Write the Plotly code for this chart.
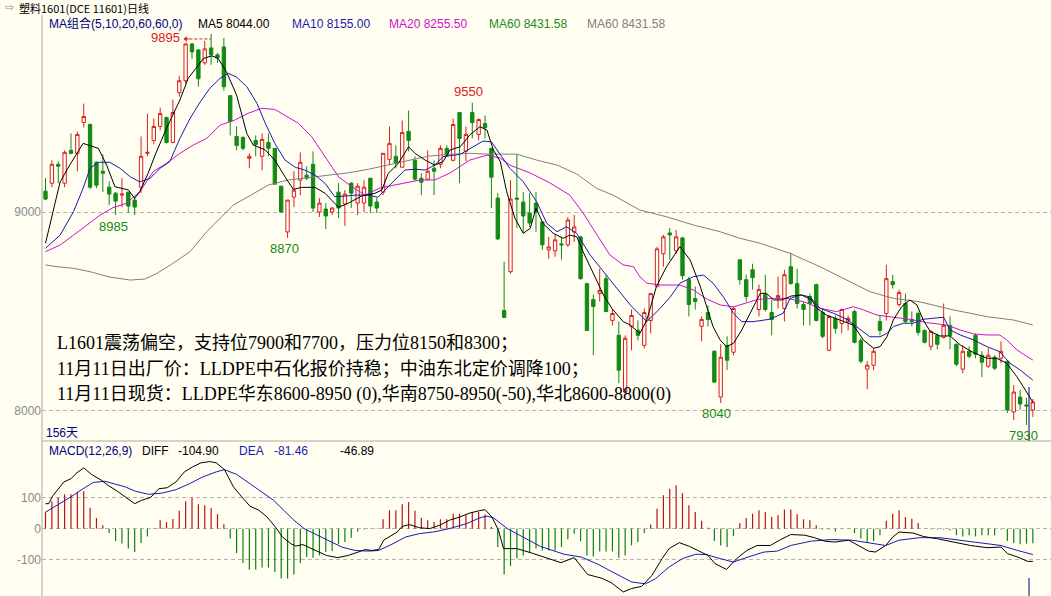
import plotly.graph_objects as go

W, H = 1051, 596
BG = "#FFFEF0"
RED = "#D82020"
GREEN = "#138A13"
HRED = "#B81414"
HGREEN = "#0E820E"
NAVY = "#000080"
BLUE = "#1A1AB0"
MAGENTA = "#D010D0"
GRAY = "#808080"
SANS = "Liberation Sans, Arial, Noto Sans CJK SC"
SERIF = "Liberation Serif, Noto Sans CJK SC"

# ---------------- daily candles (price) ----------------
opens = [9105, 9145, 9240, 9145, 9310, 9295, 9450, 9440, 9250, 9205,
         9125, 9095, 9085, 9100, 9060, 9125, 9295, 9360, 9430, 9475,
         9350, 9600, 9660, 9845, 9815, 9750, 9825, 9790, 9830, 9585,
         9380, 9375, 9270, 9360, 9280, 9350, 9320, 9130, 8900, 9075,
         9160, 9185, 9240, 9000, 9015, 9000, 9100, 9040, 9145, 9045,
         9045, 9170, 9050, 9100, 9265, 9280, 9225, 9405, 9260, 9170,
         9165, 9220, 9240, 9320, 9260, 9500, 9305, 9500, 9390, 9445,
         9320, 9070, 8505, 8700, 9070, 9050, 8995, 9045, 8950, 8810,
         8805, 8840, 8835, 8900, 8875, 8640, 8560, 8590, 8665, 8455,
         8380, 8095, 8425, 8405, 8330, 8455, 8625, 8790, 8895, 8805,
         8870, 8660, 8565, 8425, 8495, 8300, 8070, 8330, 8295, 8760,
         8660, 8710, 8510, 8585, 8495, 8570, 8515, 8725, 8640, 8535,
         8575, 8635, 8495, 8305, 8465, 8440, 8450, 8500, 8355, 8210,
         8230, 8450, 8490, 8650, 8535, 8540, 8460, 8490, 8405, 8325,
         8380, 8370, 8430, 8335, 8210, 8300, 8380, 8280, 8225, 8270,
         8265, 8250, 7995, 8070, 8030, 8005]
highs = [9170, 9260, 9255, 9310, 9395, 9405, 9545, 9445, 9255, 9290,
         9155, 9100, 9170, 9100, 9075, 9380, 9495, 9470, 9525, 9480,
         9565, 9685, 9850, 9850, 9815, 9860, 9895, 9800, 9875, 9585,
         9430, 9380, 9295, 9385, 9395, 9395, 9320, 9130, 9060, 9205,
         9300, 9230, 9305, 9070, 9045, 9025, 9145, 9110, 9150, 9145,
         9160, 9170, 9070, 9295, 9430, 9335, 9460, 9510, 9280, 9195,
         9310, 9260, 9335, 9335, 9470, 9500, 9430, 9550, 9470, 9485,
         9320, 9095, 8750, 9160, 9290, 9100, 9095, 9100, 8950, 8875,
         8885, 8875, 8975, 8985, 8880, 8645, 8585, 8715, 8685, 8510,
         8450, 8380, 8510, 8455, 8515, 8590, 8825, 8885, 8920, 8910,
         8875, 8675, 8625, 8475, 8530, 8305, 8335, 8375, 8525, 8760,
         8685, 8740, 8635, 8685, 8560, 8675, 8710, 8795, 8715, 8550,
         8590, 8640, 8515, 8480, 8480, 8515, 8480, 8510, 8365, 8250,
         8315, 8480, 8735, 8685, 8610, 8590, 8500, 8500, 8410, 8405,
         8390, 8540, 8475, 8340, 8330, 8325, 8390, 8300, 8315, 8280,
         8350, 8250, 8130, 8105, 8065, 8060]
lows = [9060, 9125, 9145, 9125, 9290, 9205, 9425, 9115, 9120, 9100,
        9035, 8985, 9025, 8995, 8985, 9095, 9280, 9340, 9410, 9345,
        9345, 9580, 9645, 9770, 9630, 9740, 9740, 9750, 9610, 9385,
        9310, 9310, 9220, 9280, 9210, 9280, 9140, 9000, 8870, 9025,
        9085, 9160, 9000, 8975, 8915, 8985, 8970, 8930, 9020, 8985,
        9000, 8995, 8995, 9085, 9235, 9220, 9225, 9305, 9160, 9085,
        9160, 9085, 9220, 9280, 9255, 9145, 9255, 9370, 9360, 9370,
        9020, 8860, 8470, 8690, 8920, 8895, 8925, 8900, 8810, 8765,
        8775, 8760, 8825, 8850, 8660, 8405, 8280, 8550, 8500, 8430,
        8140, 8080, 8305, 8355, 8315, 8390, 8625, 8725, 8760, 8790,
        8660, 8475, 8510, 8350, 8425, 8140, 8040, 8205, 8280, 8635,
        8550, 8610, 8475, 8500, 8380, 8515, 8450, 8635, 8515, 8430,
        8430, 8450, 8365, 8300, 8390, 8390, 8405, 8340, 8240, 8110,
        8205, 8380, 8455, 8615, 8525, 8440, 8425, 8380, 8340, 8305,
        8310, 8365, 8310, 8225, 8190, 8265, 8265, 8170, 8215, 8205,
        8240, 7990, 7955, 8005, 7930, 7970]
closes = [9065, 9240, 9230, 9300, 9295, 9390, 9480, 9125, 9135, 9195,
          9090, 9055, 9090, 9030, 9025, 9280, 9300, 9430, 9495, 9350,
          9500, 9660, 9845, 9805, 9670, 9820, 9790, 9775, 9630, 9455,
          9335, 9320, 9280, 9340, 9365, 9320, 9140, 9000, 9060, 9110,
          9250, 9170, 9020, 9045, 8980, 9020, 9020, 9090, 9095, 9130,
          9125, 9030, 9020, 9295, 9345, 9245, 9400, 9360, 9165, 9150,
          9205, 9205, 9320, 9285, 9440, 9370, 9390, 9450, 9465, 9425,
          9175, 8865, 8470, 9065, 9065, 8980, 8945, 9000, 8835, 8825,
          8860, 8835, 8960, 8925, 8665, 8405, 8525, 8605, 8500, 8490,
          8205, 8365, 8480, 8380, 8495, 8590, 8815, 8875, 8885, 8875,
          8680, 8535, 8550, 8460, 8460, 8145, 8270, 8255, 8515, 8660,
          8575, 8670, 8610, 8510, 8460, 8580, 8685, 8640, 8540, 8510,
          8540, 8455, 8375, 8475, 8415, 8510, 8465, 8345, 8250, 8230,
          8300, 8405, 8665, 8635, 8595, 8450, 8450, 8395, 8345, 8400,
          8335, 8430, 8380, 8235, 8300, 8275, 8285, 8245, 8280, 8215,
          8300, 8005, 8095, 8035, 8025, 8045]

# ---------------- moving averages (at day positions) ----------------
ma5_t = [0, 2.3, 3.8, 5.9, 8.3, 9.6, 10.9, 13, 14, 14.8, 16.1, 17.2, 19, 21.1, 22.4, 24.8, 26.1, 27.1,
         28.4, 30, 31.6, 32.6, 34.5, 36, 37.6, 38.9, 40.2, 42.3, 43.9, 46, 47.5, 49.6, 51.7, 52.8, 53.8,
         55.4, 57, 58, 59.6, 61.1, 62.4, 63.5, 65.1, 66.6, 68.2, 69.3, 70.3, 71.4, 72.4, 73.7, 75, 76.1,
         77, 78.1, 79.7, 81.3, 82.3, 83.4, 84.4, 86, 87.6, 88.9, 90.7, 91.8, 93.3, 94.4, 95.9, 97.5, 99.6,
         101.2, 102.8, 104.8, 105.9, 106.9, 108, 109.3, 110.9, 112.2, 113.2, 114.3, 115.6, 117.1, 118.7,
         120.3, 121.1, 122.6, 124.7, 126.8, 128.4, 130, 131, 132.1, 133.1, 134.4, 135.7, 136.8, 137.8,
         138.9, 140.4, 142, 143.6, 145.7, 147.8, 149.3, 150.9, 152.5, 153.5, 155]
ma5_v = [8843, 9152, 9236, 9345, 9320, 9236, 9127, 9111, 9069, 9102, 9194, 9286, 9421, 9563, 9672, 9772,
         9785, 9772, 9705, 9588, 9395, 9337, 9312, 9261, 9177, 9114, 9124, 9124, 9094, 9024, 9044, 9080,
         9094, 9111, 9194, 9245, 9328, 9295, 9261, 9236, 9253, 9312, 9328, 9387, 9429, 9412, 9312, 9253,
         9102, 8968, 8893, 8918, 9019, 8943, 8893, 8868, 8884, 8876, 8800, 8692, 8583, 8516, 8449, 8432,
         8390, 8457, 8625, 8725, 8826, 8759, 8625, 8424, 8357, 8323, 8340, 8407, 8508, 8591, 8591, 8558,
         8558, 8578, 8583, 8558, 8516, 8482, 8457, 8432, 8357, 8315, 8323, 8373, 8457, 8524, 8558, 8533,
         8457, 8399, 8377, 8377, 8332, 8293, 8265, 8265, 8240, 8172, 8122, 8044]
ma10_t = [0, 2.3, 4.4, 5.9, 7, 8.3, 10.1, 11.7, 13.3, 14.8, 16.4, 18, 19.5, 21.1, 22.7, 24.3, 25.8, 27.4,
          28.7, 30, 31.6, 33.2, 34.5, 36, 37.6, 39.2, 40.7, 42.3, 43.9, 45.4, 47, 48.6, 50.7, 52.2, 53.3,
          54.9, 56.4, 58, 59.6, 61.1, 62.4, 65.1, 67.2, 68.7, 70, 71.4, 72.9, 75, 77.1, 78.7, 80.3, 81.8,
          83.4, 85.5, 87.6, 89.7, 91.8, 94.4, 96.5, 98.1, 99.6, 101.7, 103.3, 104.8, 106.4, 108, 109.3,
          111.1, 113.7, 115.8, 116.9, 118.5, 120, 121.6, 123.7, 125.8, 127.9, 129.4, 131, 132.1, 133.1,
          134.7, 136.2, 137.8, 139.4, 141, 142, 143.6, 145.7, 147.8, 149.8, 151.4, 153, 155]
ma10_v = [8818, 8884, 9002, 9119, 9220, 9250, 9250, 9220, 9177, 9152, 9169, 9220, 9253, 9370, 9471, 9554,
          9622, 9672, 9697, 9678, 9630, 9546, 9446, 9345, 9261, 9225, 9211, 9186, 9144, 9077, 9080, 9085,
          9085, 9074, 9111, 9161, 9211, 9215, 9211, 9236, 9278, 9290, 9328, 9357, 9353, 9286, 9220, 9152,
          9052, 8943, 8901, 8926, 8893, 8784, 8700, 8617, 8533, 8449, 8516, 8574, 8642, 8675, 8683, 8642,
          8574, 8491, 8449, 8449, 8461, 8491, 8566, 8583, 8574, 8516, 8491, 8461, 8407, 8373, 8373, 8390,
          8424, 8441, 8441, 8461, 8466, 8471, 8407, 8382, 8357, 8323, 8298, 8240, 8206, 8155]
ma20_t = [0, 2.3, 4.4, 6.5, 8.6, 10.6, 12.7, 14.8, 16.9, 19, 21.1, 23.2, 25.3, 27.4, 29.7, 31.8, 33.9, 36,
          37.6, 39.7, 41.8, 43.9, 46, 48.1, 50.2, 52.5, 55.6, 58.8, 61.1, 63.5, 66.6, 69.3, 71.4, 72.9,
          76.1, 79.2, 82.3, 84.4, 86.6, 88.6, 90.7, 92.3, 93.3, 94.4, 96.5, 99.6, 101.7, 103.8, 105.9, 108,
          109.8, 111.9, 114, 116.4, 119, 121.6, 124.2, 126.8, 128.4, 130.5, 133.1, 135.7, 138.3, 141.5,
          143.6, 145.7, 147.8, 149.8, 150.9, 152.5, 154.1, 155]
ma20_v = [8801, 8834, 8884, 8935, 8985, 9022, 9044, 9102, 9203, 9245, 9295, 9337, 9370, 9437, 9462, 9496,
          9521, 9516, 9487, 9446, 9378, 9278, 9177, 9127, 9085, 9121, 9141, 9161, 9161, 9196, 9261, 9286,
          9271, 9236, 9196, 9146, 9085, 8995, 8884, 8784, 8734, 8725, 8675, 8642, 8633, 8633, 8608, 8563,
          8533, 8523, 8541, 8561, 8566, 8566, 8549, 8516, 8499, 8524, 8508, 8482, 8471, 8461, 8444, 8432,
          8407, 8387, 8382, 8382, 8357, 8307, 8273, 8256]
ma60_t = [0, 1.8, 4.4, 7, 10.1, 13.3, 15.6, 17.5, 20.1, 22.7, 25.3, 27.4, 29.5, 31.8, 35, 38.1, 41.3, 44.4,
          47.5, 50.7, 53.8, 57, 60.1, 63.5, 66.6, 69.8, 74, 77.1, 80.3, 83.4, 86.5, 89.1, 91.8, 93.3, 97.5,
          101.7, 105.9, 109, 112.2, 116.9, 121.6, 125.8, 129.4, 133.1, 137.2, 142.5, 147.8, 152, 155]
ma60_v = [8734, 8725, 8717, 8700, 8673, 8658, 8663, 8692, 8744, 8801, 8901, 8968, 9035, 9077, 9136, 9161,
          9174, 9186, 9197, 9215, 9236, 9258, 9281, 9290, 9295, 9291, 9291, 9261, 9236, 9191, 9119, 9085,
          9035, 9010, 8976, 8935, 8901, 8868, 8843, 8792, 8725, 8658, 8600, 8566, 8549, 8508, 8474, 8457,
          8432]

# ---------------- MACD(12,26,9) ----------------
macd_hist = [53, 88, 100, 110, 110, 118, 120, 67, 34, 11,
             -14, -40, -48, -64, -75, -46, -25,
             1, 27, 21, 31, 57, 88, 100, 78, 75, 66, 46, 14,
             -32, -78, -110, -132, -132, -125, -125, -139, -160, -160, -147, -110, -91, -93, -86, -75,
             -72, -50, -43, -29, -9, -3, -1, -1,
             30, 59, 59, 78, 85, 57, 35, 27, 21, 30, 30, 48, 48, 43, 53, 53, 45, 5,
             -59, -147, -120, -96, -86, -78,
             -64, -70, -70, -70, -59, -34, -16, -40, -86, -89, -73, -73, -73, -93, -86, -54, -43, -14,
             13, 64, 107, 128, 139, 114, 75, 53, 25, 3,
             -40, -54, -59, -24,
             18, 34, 48, 59, 53, 37, 43, 61, 61, 46, 30, 27, 11,
             -3, -3, -9, -1, -1, -14, -32, -43, -40, -21,
             25, 48, 59, 37, 32, 18, 1,
             -3, -3, -3, -5, -21, -25, -21, -25, -21, -21, -21, -3, -40, -46, -50, -48, -47]
diff_t = [0, 0.5, 1.1, 2.9, 4.0, 4.8, 6.0, 7.2, 8.8, 9.8, 11.2, 12.5, 14.0, 15.1, 16.5, 17.8, 19.1, 20.5,
          21.8, 23.1, 24.4, 25.8, 26.8, 28.1, 29.5, 30.8, 32.1, 33.5, 34.8, 36.1, 37.2, 38.5, 39.3, 40.4,
          41.7, 43.0, 44.1, 45.9, 47.5, 49.1, 50.2, 51.2, 52.3, 53.1, 54.4, 55.2, 56.0, 57.1, 58.7, 60.3,
          61.9, 63.4, 65.0, 66.6, 68.0, 69.0, 70.1, 71.1, 71.9, 74.0, 76.3, 78.7, 80.9, 83.0, 85.1, 87.3,
          88.8, 90.7, 92.0, 93.6, 95.2, 96.8, 97.9, 99.5, 101.1, 102.4, 104.0, 105.1, 106.9, 108.5, 110.1,
          111.7, 113.8, 115.4, 117.0, 119.2, 120.7, 122.3, 123.9, 126.1, 127.6, 129.2, 130.3, 131.9, 133.0,
          134.0, 136.2, 137.8, 139.9, 142.5, 145.2, 147.8, 150.0, 151.0, 152.6, 154.2, 155]
diff_v = [80, 80, 104, 150, 160, 177, 195, 174, 155, 139, 121, 102, 80, 91, 100, 128, 131, 150, 182, 198,
          211, 215, 211, 189, 134, 102, 72, 59, 37, 5, -27, -48, -56, -51, -64, -75, -86, -93, -86, -75,
          -67, -70, -67, -37, -21, -11, 7, 13, 3, 0, 11, 27, 37, 50, 57, 61, 37, -5, -64, -64, -78, -93,
          -109, -93, -147, -159, -173, -203, -192, -185, -150, -96, -64, -45, -57, -70, -86, -112, -131,
          -96, -70, -54, -54, -35, -19, -21, -29, -40, -43, -37, -54, -72, -75, -54, -27, -11, -14, -25,
          -32, -43, -54, -61, -59, -80, -91, -105, -105]
dea_t = [0, 1.9, 4.0, 5.9, 7.5, 9.3, 10.9, 12.5, 14.1, 16.2, 18.3, 20.5, 22.6, 24.7, 26.8, 28.1, 30.0,
         32.1, 34.3, 35.8, 37.4, 39.0, 40.6, 42.7, 44.9, 46.5, 48.6, 50.7, 52.3, 54.4, 56.5, 58.7, 60.8,
         63.4, 66.1, 68.2, 69.3, 70.3, 72.5, 74.5, 77.7, 81.4, 84.1, 86.7, 89.4, 92.0, 94.2, 95.8, 97.9,
         100.0, 102.1, 103.7, 105.9, 108.0, 110.6, 112.8, 114.9, 117.0, 120.2, 123.4, 126.6, 129.2, 131.9,
         134.0, 137.2, 140.4, 143.6, 146.8, 150.0, 152.6, 155]
dea_v = [53, 75, 102, 128, 148, 152, 142, 134, 120, 110, 114, 125, 144, 166, 182, 189, 174, 144, 114, 91,
         59, 27, 0, -21, -43, -59, -70, -72, -70, -50, -27, -16, -11, 0, 16, 35, 40, 35, 0, -21, -57, -82,
         -91, -114, -144, -171, -177, -160, -123, -96, -82, -83, -96, -107, -89, -75, -72, -54, -40, -35,
         -37, -46, -54, -37, -29, -29, -37, -45, -54, -70, -83]

# text content
title_text = "塑料1601(DCE 11601)日线"
ma_legend = [("MA组合(5,10,20,60,60,0)", NAVY, 47), ("MA5 8044.00", "#000000", 196),
             ("MA10 8155.00", BLUE, 290), ("MA20 8255.50", MAGENTA, 387),
             ("MA60 8431.58", "#1E8A1E", 487), ("MA60 8431.58", GRAY, 585)]
macd_legend = [("MACD(12,26,9)", NAVY, 47), ("DIFF", "#000000", 140), ("-104.90", "#000000", 176),
               ("DEA", BLUE, 237), ("-81.46", BLUE, 272), ("-46.89", "#000000", 338)]
notes = ["L1601震荡偏空，支持位7900和7700，压力位8150和8300；",
         "11月11日出厂价：LLDPE中石化报价持稳；中油东北定价调降100；",
         "11月11日现货：LLDPE华东8600-8950 (0),华南8750-8950(-50),华北8600-8800(0)"]

idx = list(range(len(closes)))


def px(x):
    return x / W


def py(y):
    return 1 - y / H


fig = go.Figure()
fig.add_trace(go.Candlestick(
    x=idx, open=opens, high=highs, low=lows, close=closes,
    increasing=dict(line=dict(color=RED, width=1), fillcolor=BG),
    decreasing=dict(line=dict(color=GREEN, width=1), fillcolor=GREEN),
    whiskerwidth=0, hoverinfo="skip", showlegend=False, xaxis="x", yaxis="y"))

for t, v, c in [(ma60_t, ma60_v, GRAY), (ma20_t, ma20_v, MAGENTA),
                (ma10_t, ma10_v, BLUE), (ma5_t, ma5_v, "#000000")]:
    fig.add_trace(go.Scatter(x=t, y=v, mode="lines", line=dict(color=c, width=1),
                             hoverinfo="skip", showlegend=False, xaxis="x", yaxis="y"))

# MACD histogram as thin stems from the zero line
for positive, col in [(True, HRED), (False, HGREEN)]:
    xs, ys = [], []
    for i, v in zip(idx, macd_hist):
        if (v > 0) == positive:
            xs += [i, i, None]
            ys += [0, v, None]
    fig.add_trace(go.Scatter(x=xs, y=ys, mode="lines", line=dict(color=col, width=1.2),
                             hoverinfo="skip", showlegend=False, xaxis="x", yaxis="y2"))
fig.add_trace(go.Scatter(x=dea_t, y=dea_v, mode="lines", line=dict(color=BLUE, width=1),
                         hoverinfo="skip", showlegend=False, xaxis="x", yaxis="y2"))
fig.add_trace(go.Scatter(x=diff_t, y=diff_v, mode="lines", line=dict(color="#000000", width=1),
                         hoverinfo="skip", showlegend=False, xaxis="x", yaxis="y2"))

ann = []


def text(x, y, s, color, size=12, family=SANS, anchor="left"):
    ann.append(dict(x=px(x), y=py(y), xref="paper", yref="paper", text=s, showarrow=False,
                    xanchor=anchor, yanchor="middle", font=dict(family=family, size=size, color=color)))


text(3, 8, "⇨", "#909090", size=11, family="DejaVu Sans")
text(17, 8, title_text, "#000000", size=11, family="Noto Sans CJK SC")
for s, c, x in ma_legend:
    text(x, 24, s, c)
for s, c, x in macd_legend:
    text(x, 451, s, c)
text(44, 433, "156天", NAVY)
for k, s in enumerate(notes):
    text(55, 343 + k * 25.5, s, "#000000", size=18, family=SERIF)

LBL = dict(family=SANS, size=13)
# extreme-value labels tied to the candles
ann.append(dict(x=11, y=lows[11], xref="x", yref="y", text=str(lows[11]), showarrow=False,
                yanchor="top", yshift=-2, xshift=-2, font=dict(LBL, color=GREEN)))
ann.append(dict(x=38, y=lows[38], xref="x", yref="y", text=str(lows[38]), showarrow=False,
                yanchor="top", yshift=-1, xshift=-3, font=dict(LBL, color=GREEN)))
ann.append(dict(x=67, y=highs[67], xref="x", yref="y", text=str(highs[67]), showarrow=False,
                yanchor="bottom", yshift=2, xshift=-4, font=dict(LBL, color=RED)))
ann.append(dict(x=106, y=lows[106], xref="x", yref="y", text=str(lows[106]), showarrow=False,
                yanchor="top", yshift=-1, xshift=-4, font=dict(LBL, color=GREEN)))
ann.append(dict(x=154, y=lows[154], xref="x", yref="y", text=str(lows[154]), showarrow=False,
                yanchor="top", yshift=-1, xshift=-3, font=dict(LBL, color=GREEN)))
ann.append(dict(x=21.7, y=highs[26] - 23, xref="x", yref="y", text=str(highs[26]), showarrow=False,
                xanchor="right", yanchor="middle", xshift=-2, yshift=1, font=dict(LBL, color=RED)))
ann.append(dict(x=21.7, y=highs[26] - 25, xref="x", yref="y", text="", showarrow=True,
                ax=7, ay=0, arrowhead=1, arrowsize=1, arrowwidth=1, arrowcolor=RED))

shapes = [
    dict(type="line", xref="x", yref="y", x0=21.8, x1=26, y0=highs[26] - 25, y1=highs[26] - 25,
         line=dict(color=RED, width=1, dash="3px,2px")),
    dict(type="line", xref="paper", yref="paper", x0=px(42), x1=1, y0=py(441), y1=py(441),
         line=dict(color="#A8A8A8", width=1)),
    dict(type="line", xref="paper", yref="paper", x0=px(42), x1=px(42), y0=py(15), y1=0,
         line=dict(color="#A8A8A8", width=1)),
    dict(type="line", xref="x", yref="paper", x0=154.4, x1=154.4, y0=py(387), y1=py(441),
         line=dict(color=NAVY, width=1)),
    dict(type="line", xref="x", yref="paper", x0=154.4, x1=154.4, y0=py(578), y1=0,
         line=dict(color=NAVY, width=1)),
]

TICKF = dict(family=SANS, size=12, color="#8A8A8A")
fig.update_layout(
    width=W, height=H, margin=dict(l=0, r=0, t=0, b=0),
    paper_bgcolor=BG, plot_bgcolor=BG, showlegend=False, hovermode=False,
    boxgap=0.25,
    xaxis=dict(domain=[px(42), 1], range=[-0.55, 157.85], showgrid=False, zeroline=False,
               showticklabels=False, ticks="", showline=False, rangeslider=dict(visible=False),
               fixedrange=True),
    yaxis=dict(domain=[py(441), py(30)], range=[7849, 9915], tickmode="array",
               tickvals=[8000, 9000], ticktext=["8000", "9000"], showgrid=True,
               gridcolor="#B4B4B4", griddash="4px,3px", gridwidth=1, zeroline=False, ticks="",
               showline=False, tickfont=TICKF, anchor="x", fixedrange=True),
    yaxis2=dict(domain=[0, py(441)], range=[-216, 281], tickmode="array",
                tickvals=[-100, 0, 100], ticktext=["-100", "0", "100"], showgrid=True,
                gridcolor="#B4B4B4", griddash="4px,3px", gridwidth=1, zeroline=False, ticks="",
                showline=False, tickfont=TICKF, anchor="x", fixedrange=True),
    annotations=ann, shapes=shapes,
)

fig.write_html("out.html")
